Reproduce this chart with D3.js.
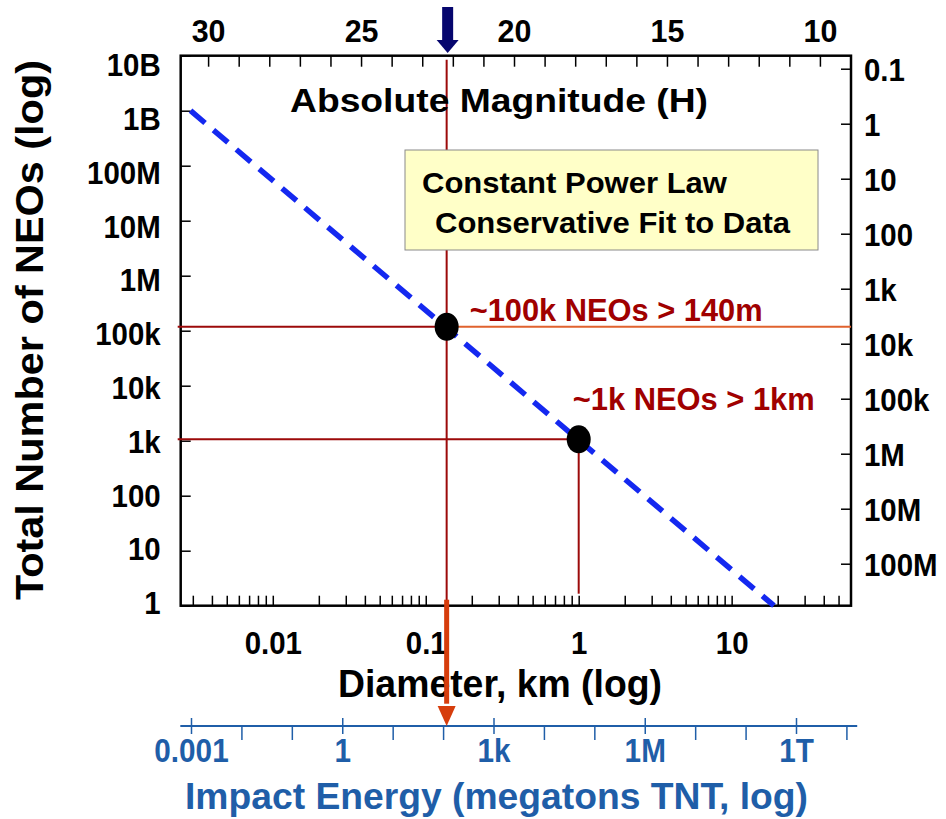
<!DOCTYPE html>
<html>
<head>
<meta charset="utf-8">
<script src="https://cdn.jsdelivr.net/npm/d3@7"></script>
<style>
  body { margin: 0; background: #fff; }
  text { font-family: "Liberation Sans", Arial, sans-serif; font-weight: bold; }
</style>
</head>
<body>
<div id="canvas"></div>
<script>
/* chart values */
let countTicks = [1, 10, 100, 1e3, 1e4, 1e5, 1e6, 1e7, 1e8, 1e9, 1e10];
let countLabels = ["1", "10", "100", "1k", "10k", "100k", "1M", "10M", "100M", "1B", "10B"];
let intervalTicks = [0.1, 1, 10, 100, 1e3, 1e4, 1e5, 1e6, 1e7, 1e8];
let intervalLabels = ["0.1", "1", "10", "100", "1k", "10k", "100k", "1M", "10M", "100M"];
let diameterTicks = [0.01, 0.1, 1, 10];
let diameterLabels = ["0.01", "0.1", "1", "10"];
let magnitudeTicks = [30, 25, 20, 15, 10];
let energyTicks = [1e-3, 1, 1e3, 1e6, 1e9];
let energyLabels = ["0.001", "1", "1k", "1M", "1T"];
let energyMinor = [1e-2, 1e-1, 10, 100, 1e4, 1e5, 1e7, 1e8, 1e10];
let fitDiameter = [0.0029, 18.9];
let fitCount = [1e9, 1];
let markerDiameter = [0.137, 1.0];
let markerCount = [1.18e5, 1.06e3];
let markerLabels = ["~100k NEOs > 140m", "~1k NEOs > 1km"];
let boxLines = ["Constant Power Law", "Conservative Fit to Data"];
let albedo = 0.122;           // H -> diameter conversion
let intervalFactor = 5.8e8;   // years between impacts = factor / count

/* drawing config */
let svgWidth = 946;
let svgHeight = 819;
let plotLeft = 180.7, plotRight = 851, plotTop = 55.7, plotBottom = 605.7;
let darkRed = "#9c0a0a";
let orange = "#d63d0c";
let energyBlue = "#1f5ea8";

let svg = d3.select("#canvas")
    .append("svg")
    .attr("width", svgWidth)
    .attr("height", svgHeight);

// squeeze text a bit horizontally (the original type is narrow and tall)
function squeeze(sel, f) {
    sel.each(function() {
        let w = this.getComputedTextLength();
        if (w > 0) d3.select(this).attr("textLength", w * f).attr("lengthAdjust", "spacingAndGlyphs");
    });
}

let xScale = d3.scaleLog()
    .domain([0.0025, 60.3])
    .range([plotLeft, plotRight]);

let yScale = d3.scaleLog()
    .domain([1, 1e10])
    .range([plotBottom, plotTop]);

// left labels sit a little tighter than their ticks
let yLabelScale = d3.scaleLog()
    .domain([1, 1e10])
    .range([plotBottom - 3, plotTop + 9]);

let rightScale = d3.scaleLog()
    .domain([intervalFactor / 1e10, intervalFactor])
    .range([plotTop, plotBottom]);

function hToDiameter(h) {
    return 1329 / Math.sqrt(albedo) * Math.pow(10, -h / 5);
}

let energyScale = d3.scaleLog()
    .domain([1e-3, 1e9])
    .range([191.5, 796.5]);

/* Left axis */
let leftAxis = d3.axisLeft(yScale)
    .tickValues(countTicks)
    .tickFormat("")
    .tickSizeInner(-10).tickSizeOuter(0);
svg.append("g").attr("transform", `translate(${plotLeft},0)`).call(leftAxis);
svg.append("g").selectAll("text")
    .data(countTicks)
    .enter().append("text")
    .attr("x", plotLeft - 20).attr("y", d => yLabelScale(d))
    .attr("dy", "0.36em").attr("text-anchor", "end")
    .attr("font-size", 32)
    .text((d, i) => countLabels[i])
    .call(squeeze, 0.92);

/* Right axis */
let rightAxis = d3.axisRight(rightScale)
    .tickValues(intervalTicks)
    .tickFormat((d, i) => intervalLabels[i])
    .tickSizeInner(-10).tickSizeOuter(0).tickPadding(13);
svg.append("g").attr("transform", `translate(${plotRight},0)`).call(rightAxis)
    .call(g => g.selectAll("text").attr("font-size", 32).attr("fill", "#000")
        .attr("font-family", null).attr("dy", "0.36em").call(squeeze, 0.92));

/* Bottom diameter axis */
let minorD = xScale.ticks().filter(d => xScale(d) > plotLeft + 3 && xScale(d) < plotRight - 3);
let bottomAxis = d3.axisBottom(xScale)
    .tickValues(minorD)
    .tickFormat(d => {
        let i = diameterTicks.findIndex(t => Math.abs(t - d) / t < 1e-6);
        return i >= 0 ? diameterLabels[i] : "";
    })
    .tickSizeInner(-10).tickSizeOuter(0).tickPadding(26);
svg.append("g").attr("transform", `translate(0,${plotBottom})`).call(bottomAxis)
    .call(g => g.selectAll("text").attr("font-size", 32).attr("fill", "#000")
        .attr("font-family", null).call(squeeze, 0.92));

/* Top magnitude axis */
let hScale = h => xScale(hToDiameter(h));
let hAll = d3.range(10, 31);
let topG = svg.append("g");
topG.selectAll("line")
    .data(hAll)
    .enter().append("line")
    .attr("x1", d => hScale(d)).attr("x2", d => hScale(d))
    .attr("y1", plotTop).attr("y2", plotTop + 11)
    .attr("stroke", "#000").attr("stroke-width", 1.5);
topG.selectAll("text")
    .data(magnitudeTicks)
    .enter().append("text")
    .attr("x", d => hScale(d)).attr("y", 42)
    .attr("text-anchor", "middle").attr("font-size", 32)
    .text(d => d)
    .call(squeeze, 0.95);

/* frame */
svg.selectAll(".domain").remove();
svg.selectAll(".tick line").attr("stroke", "#000").attr("stroke-width", 1.5);
svg.append("rect")
    .attr("x", plotLeft).attr("y", plotTop)
    .attr("width", plotRight - plotLeft).attr("height", plotBottom - plotTop)
    .attr("fill", "none").attr("stroke", "#000").attr("stroke-width", 2.5);

/* reference lines */
let m0 = { x: xScale(markerDiameter[0]), y: yScale(markerCount[0]) };
let m1 = { x: xScale(markerDiameter[1]), y: yScale(markerCount[1]) };

svg.append("line")
    .attr("x1", plotLeft - 3).attr("x2", m0.x).attr("y1", m0.y).attr("y2", m0.y)
    .attr("stroke", darkRed).attr("stroke-width", 2);
svg.append("line")
    .attr("x1", m0.x).attr("x2", plotRight).attr("y1", m0.y).attr("y2", m0.y)
    .attr("stroke", "#e0622e").attr("stroke-width", 2);
svg.append("line")
    .attr("x1", m0.x).attr("x2", m0.x).attr("y1", plotTop + 4).attr("y2", plotBottom - 5)
    .attr("stroke", darkRed).attr("stroke-width", 2);
svg.append("line")
    .attr("x1", plotLeft - 3).attr("x2", m1.x).attr("y1", m1.y).attr("y2", m1.y)
    .attr("stroke", darkRed).attr("stroke-width", 2);
svg.append("line")
    .attr("x1", m1.x).attr("x2", m1.x).attr("y1", m1.y).attr("y2", plotBottom - 12)
    .attr("stroke", darkRed).attr("stroke-width", 2);

/* power law fit */
let fitLine = d3.line()
    .x(d => xScale(d[0]))
    .y(d => yScale(d[1]));
svg.append("path")
    .datum(d3.zip(fitDiameter, fitCount))
    .attr("d", fitLine)
    .attr("fill", "none")
    .attr("stroke", "#1428f0")
    .attr("stroke-width", 5.5)
    .attr("stroke-dasharray", "19,11");

/* markers */
svg.selectAll(".marker")
    .data(d3.zip(markerDiameter, markerCount))
    .enter().append("ellipse")
    .attr("cx", d => xScale(d[0])).attr("cy", d => yScale(d[1]))
    .attr("rx", 12).attr("ry", 14)
    .attr("fill", "#000");

svg.append("text")
    .attr("x", m0.x + 23).attr("y", m0.y - 6)
    .attr("font-size", 31).attr("fill", "#a00000")
    .attr("textLength", 293).attr("lengthAdjust", "spacingAndGlyphs")
    .text(markerLabels[0]);
svg.append("text")
    .attr("x", m1.x - 6).attr("y", m1.y - 29)
    .attr("font-size", 31).attr("fill", "#a00000")
    .attr("textLength", 242).attr("lengthAdjust", "spacingAndGlyphs")
    .text(markerLabels[1]);

/* fit box */
svg.append("rect")
    .attr("x", 405).attr("y", 150).attr("width", 413).attr("height", 100)
    .attr("fill", "#ffffc8").attr("stroke", "#8a8a8a").attr("stroke-width", 1);
svg.append("text").attr("x", 422).attr("y", 193)
    .attr("font-size", 30).attr("textLength", 305).attr("lengthAdjust", "spacingAndGlyphs")
    .text(boxLines[0]);
svg.append("text").attr("x", 435).attr("y", 233)
    .attr("font-size", 30).attr("textLength", 355).attr("lengthAdjust", "spacingAndGlyphs")
    .text(boxLines[1]);

/* titles */
svg.append("text")
    .attr("x", 290).attr("y", 112)
    .attr("font-size", 34).attr("textLength", 418).attr("lengthAdjust", "spacingAndGlyphs")
    .text("Absolute Magnitude (H)");
svg.append("text")
    .attr("x", 338).attr("y", 697)
    .attr("font-size", 38).attr("textLength", 324).attr("lengthAdjust", "spacingAndGlyphs")
    .text("Diameter, km (log)");
svg.append("text")
    .attr("transform", "translate(43,600) rotate(-90)")
    .attr("font-size", 38).attr("textLength", 540).attr("lengthAdjust", "spacingAndGlyphs")
    .text("Total Number of NEOs (log)");

/* blue arrow at top */
let ax = m0.x + 1;
svg.append("rect")
    .attr("x", ax - 5.5).attr("y", 7).attr("width", 11).attr("height", 34)
    .attr("fill", "#06066e");
svg.append("path")
    .attr("d", `M${ax - 11},40 L${ax + 11},40 L${ax},53 Z`)
    .attr("fill", "#06066e");

/* energy axis */
let energyY = 726;
svg.append("line")
    .attr("x1", energyScale(6e-4)).attr("x2", energyScale(1.6e10))
    .attr("y1", energyY).attr("y2", energyY)
    .attr("stroke", energyBlue).attr("stroke-width", 2);
svg.selectAll(".eminor")
    .data(energyMinor)
    .enter().append("line")
    .attr("x1", d => energyScale(d)).attr("x2", d => energyScale(d))
    .attr("y1", energyY).attr("y2", energyY + 14)
    .attr("stroke", energyBlue).attr("stroke-width", 1.5);
svg.selectAll(".emajor")
    .data(energyTicks)
    .enter().append("line")
    .attr("x1", d => energyScale(d)).attr("x2", d => energyScale(d))
    .attr("y1", energyY - 8).attr("y2", energyY + 8)
    .attr("stroke", energyBlue).attr("stroke-width", 1.5);
svg.selectAll(".elabel")
    .data(energyTicks)
    .enter().append("text")
    .attr("x", d => energyScale(d)).attr("y", 762)
    .attr("text-anchor", "middle").attr("font-size", 33)
    .attr("fill", energyBlue)
    .text((d, i) => energyLabels[i])
    .call(squeeze, 0.9);
svg.append("text")
    .attr("x", 185).attr("y", 809)
    .attr("font-size", 36).attr("fill", energyBlue)
    .attr("textLength", 623).attr("lengthAdjust", "spacingAndGlyphs")
    .text("Impact Energy (megatons TNT, log)");

/* orange arrow down to energy axis */
svg.append("rect")
    .attr("x", m0.x - 2.5).attr("y", plotBottom - 6).attr("width", 5).attr("height", 104)
    .attr("fill", orange);
svg.append("path")
    .attr("d", `M${m0.x - 9},706 L${m0.x + 9},706 L${m0.x},${energyY} Z`)
    .attr("fill", orange);
</script>
</body>
</html>
